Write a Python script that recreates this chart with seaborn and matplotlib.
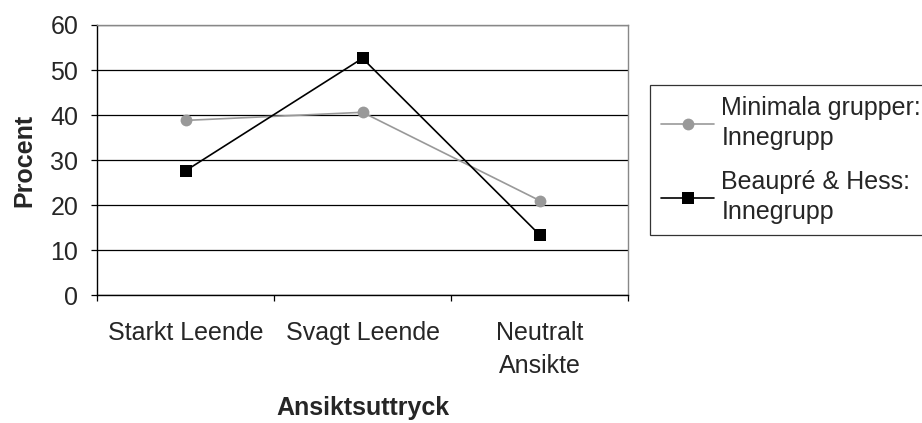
import pandas as pd
import matplotlib
matplotlib.use("Agg")
import matplotlib.pyplot as plt
import seaborn as sns

# Chart data
kategorier = ["Starkt Leende", "Svagt Leende", "Neutralt\nAnsikte"]
minimala = [38.8, 40.6, 21.0]
beaupre = [27.6, 52.6, 13.4]
serie_namn = ["Minimala grupper:\nInnegrupp", "Beaupré & Hess:\nInnegrupp"]

df = pd.DataFrame({
    "pos": list(range(len(kategorier))) * 2,
    "Procent": minimala + beaupre,
    "Serie": [serie_namn[0]] * 3 + [serie_namn[1]] * 3,
})

sns.set_style("white")
plt.rcParams["font.family"] = ["Liberation Sans", "DejaVu Sans"]
fs = 18

fig = plt.figure(figsize=(9.22, 4.23), dpi=100)
ax = fig.add_axes([97 / 922, 1 - 295 / 423, 531 / 922, 270 / 423])

sns.lineplot(data=df[df["Serie"] == serie_namn[0]], x="pos", y="Procent",
             color="#999999", marker="o", markersize=8.5, markeredgewidth=0,
             linewidth=1.2, ax=ax, label=serie_namn[0])
sns.lineplot(data=df[df["Serie"] == serie_namn[1]], x="pos", y="Procent",
             color="black", marker="s", markersize=8.5, markeredgewidth=0,
             linewidth=1.2, ax=ax, label=serie_namn[1])

ax.set_xlim(-0.5, 2.5)
ax.set_ylim(0, 60)
ax.set_yticks(range(0, 61, 10))
ax.yaxis.grid(True, color="black", linewidth=0.9)
ax.set_axisbelow(True)

ax.set_xticks([-0.5, 0.5, 1.5, 2.5])
ax.set_xticklabels([])
ax.set_xticks([0, 1, 2], minor=True)
ax.set_xticklabels(kategorier, minor=True, fontsize=fs, linespacing=1.45)
ax.tick_params(axis="x", which="major", direction="out", length=4.5, color="black", width=0.9, bottom=True)
ax.tick_params(axis="x", which="minor", length=0, pad=19)
ax.tick_params(axis="y", direction="out", length=4.5, color="black", width=0.9, left=True, labelsize=fs, pad=9)

for side in ["top", "right"]:
    ax.spines[side].set_color("#888888")
for side in ["left", "bottom"]:
    ax.spines[side].set_color("black")
for s in ax.spines.values():
    s.set_linewidth(1.0)

ax.set_xlabel("Ansiktsuttryck", fontsize=fs, fontweight="bold", labelpad=13)
ax.set_ylabel("Procent", fontsize=fs, fontweight="bold", labelpad=10)

ax.get_legend().remove()
handles, labels = ax.get_legend_handles_labels()
leg = fig.legend(handles, labels, loc="upper left", bbox_to_anchor=(650 / 922, 1 - 85 / 423),
                 fontsize=fs, frameon=True, fancybox=False, handlelength=2.1,
                 handletextpad=0.3, labelspacing=0.8, borderpad=0.45, borderaxespad=0)
for t in leg.get_texts():
    t.set_linespacing(1.3)
leg.get_frame().set_edgecolor("black")
leg.get_frame().set_linewidth(0.9)

fig.savefig("out.png", dpi=100)
